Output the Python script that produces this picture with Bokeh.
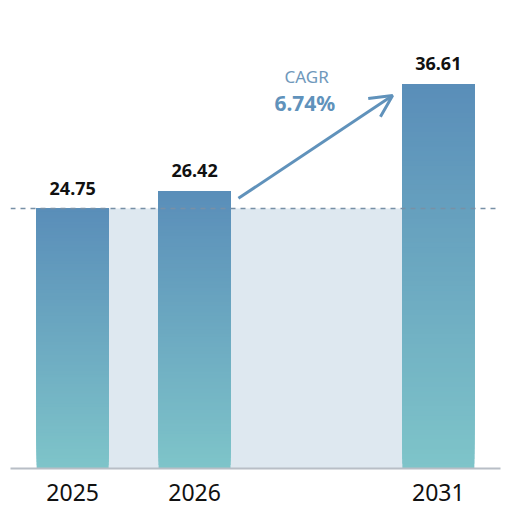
from bokeh.plotting import figure
from bokeh.models import Range1d, Span, Arrow, OpenHead, ColumnDataSource, Label, FixedTicker
from bokeh.core.properties import value
from bokeh.embed import file_html
from bokeh.resources import INLINE

years = ["2025", "2026", "2031"]
x_pos = [0, 1, 3]
values = [24.75, 26.42, 36.61]
cagr_label = "CAGR"
cagr_value = "6.74%"

top_rgb = (90, 142, 185)
bot_rgb = (126, 196, 201)
BAR_W = 0.59

p = figure(width=512, height=519, output_backend="svg", toolbar_location=None,
           x_range=Range1d(-0.51, 3.51), y_range=Range1d(0, 43.79),
           min_border_left=10, min_border_right=12, min_border_top=8, min_border_bottom=51)
p.outline_line_color = None
p.grid.grid_line_color = None
p.yaxis.visible = False
p.background_fill_color = "white"

# light band at first value level
p.quad(left=[x_pos[0] - BAR_W / 2], right=[x_pos[-1] + BAR_W / 2], bottom=[0], top=[values[0]],
       fill_color="#dee8f0", line_color=None)

# gradient bars built from overlapping strips (each strip runs to the bar top)
N = 80
L, R, B, T, C = [], [], [], [], []
for xp, v in zip(x_pos, values):
    for i in range(N):
        f = i / (N - 1)
        c = tuple(int(round(bot_rgb[k] + (top_rgb[k] - bot_rgb[k]) * f)) for k in range(3))
        L.append(xp - BAR_W / 2)
        R.append(xp + BAR_W / 2)
        B.append(v * i / N)
        T.append(v)
        C.append("#%02x%02x%02x" % c)
p.quad(left=L, right=R, bottom=B, top=T, fill_color=C, line_color=None)

# dashed reference line
p.add_layout(Span(location=values[0], dimension="width", line_color="#7890a6",
                  line_width=1.5, line_dash="5 5"))

# value labels
src = ColumnDataSource(dict(x=x_pos, y=values, t=["%.2f" % v for v in values]))
p.text(x="x", y="y", text="t", source=src, text_align="center", text_baseline="alphabetic",
       y_offset=-20, text_font_size="18px", text_font_style="bold", text_color="#111111",
       text_font=value("Noto Sans"))

# CAGR arrow
p.add_layout(Arrow(end=OpenHead(size=22, line_color="#6092bb", line_width=3),
                   x_start=x_pos[1] + 0.36, y_start=values[1] - 0.7,
                   x_end=x_pos[2] - 0.375, y_end=values[2] - 1.1,
                   line_color="#6092bb", line_width=3))
p.add_layout(Label(x=1.92, y=values[2] + 0.7, text=cagr_label, text_align="center",
                   text_baseline="alphabetic", text_font_size="17px", text_color="#6f98bb",
                   text_font="Noto Sans"))
p.add_layout(Label(x=1.905, y=values[2] - 1.86, text=cagr_value, text_align="center",
                   text_baseline="alphabetic", text_font_size="21px", text_font_style="bold",
                   text_color="#6092bb", text_font="Noto Sans"))

# x axis
p.xaxis.ticker = FixedTicker(ticks=x_pos)
p.xaxis.major_label_overrides = {xp: y for xp, y in zip(x_pos, years)}
p.xaxis.major_label_text_font = "Noto Sans"
p.xaxis.major_label_text_font_size = "23px"
p.xaxis.major_label_text_color = "#111111"
p.xaxis.major_tick_line_color = None
p.xaxis.minor_tick_line_color = None
p.xaxis.axis_line_color = "#b8bec6"
p.xaxis.axis_line_width = 2
p.xaxis.major_label_standoff = 9

open("out.html", "w").write(file_html(p, INLINE))
